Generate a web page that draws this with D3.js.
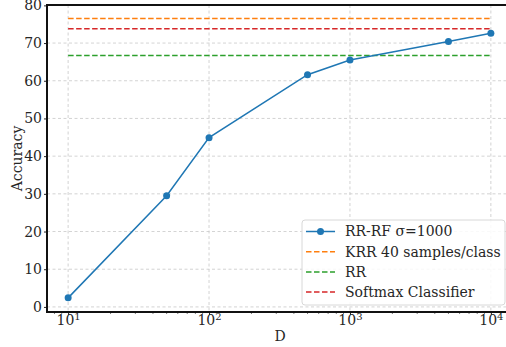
<!DOCTYPE html>
<html>
<head>
<meta charset="utf-8">
<script src="https://cdn.jsdelivr.net/npm/d3@7"></script>
<style>
  body { margin: 0; background: #fff; }
  svg text { font-family: "DejaVu Serif", serif; fill: #262626; }
</style>
</head>
<body>
<div id="chart"></div>
<script>
// data
const dims = [10, 50, 100, 500, 1000, 5000, 10000]
const rrrf = [2.4, 29.5, 44.9, 61.6, 65.5, 70.4, 72.6]
const baselines = [
  { name: "KRR 40 samples/class", value: 76.5, color: "#ff7f0e" },
  { name: "RR", value: 66.7, color: "#2ca02c" },
  { name: "Softmax Classifier", value: 73.8, color: "#d62728" }
]
const yTicks = [0, 10, 20, 30, 40, 50, 60, 70, 80]
const xTicks = [10, 100, 1000, 10000]

const width = 506, height = 347
const margin = { top: 5, right: -6, bottom: 35, left: 47 }

const svg = d3.select("#chart").append("svg")
  .attr("width", width)
  .attr("height", height)

const x = d3.scaleLog()
  .domain([Math.pow(10, 0.85), Math.pow(10, 4.15)])
  .range([margin.left, width - margin.right])

const y = d3.scaleLinear()
  .domain([-1.35, 80.1])
  .range([height - margin.bottom, margin.top])

// grid
svg.append("g").selectAll("line")
  .data(yTicks).enter().append("line")
  .attr("x1", margin.left).attr("x2", width)
  .attr("y1", d => y(d)).attr("y2", d => y(d))
  .attr("stroke", "#c8c8c8").attr("stroke-width", 0.8)
  .attr("stroke-dasharray", "3,2.5")

svg.append("g").selectAll("line")
  .data(xTicks).enter().append("line")
  .attr("x1", d => x(d)).attr("x2", d => x(d))
  .attr("y1", margin.top).attr("y2", height - margin.bottom)
  .attr("stroke", "#c8c8c8").attr("stroke-width", 0.8)
  .attr("stroke-dasharray", "3,2.5")

// baseline dashed lines
svg.append("g").selectAll("line")
  .data(baselines).enter().append("line")
  .attr("x1", x(dims[0])).attr("x2", x(dims[dims.length - 1]))
  .attr("y1", d => y(d.value)).attr("y2", d => y(d.value))
  .attr("stroke", d => d.color).attr("stroke-width", 1.5)
  .attr("stroke-dasharray", "5.5,2.5")

// main series
const line = d3.line()
  .x((d, i) => x(dims[i]))
  .y(d => y(d))

svg.append("path")
  .datum(rrrf)
  .attr("d", line)
  .attr("fill", "none")
  .attr("stroke", "#1f77b4")
  .attr("stroke-width", 1.5)

svg.append("g").selectAll("circle")
  .data(rrrf).enter().append("circle")
  .attr("cx", (d, i) => x(dims[i]))
  .attr("cy", d => y(d))
  .attr("r", 3.5)
  .attr("fill", "#1f77b4")

// axes
const yAxis = d3.axisLeft(y).tickValues(yTicks).tickSize(3).tickPadding(2)
const gy = svg.append("g")
  .attr("transform", `translate(${margin.left},0)`)
  .call(yAxis)
gy.select(".domain").remove()
gy.selectAll("text").style("font-size", "14px").style("font-family", "DejaVu Serif")
gy.selectAll("line").attr("stroke", "#222")

const xAxis = d3.axisBottom(x).tickValues(xTicks).tickSize(3).tickFormat("")
const gx = svg.append("g")
  .attr("transform", `translate(0,${height - margin.bottom})`)
  .call(xAxis)
gx.select(".domain").remove()
gx.selectAll("line").attr("stroke", "#222")

// minor ticks
const minors = []
for (let e = 1; e <= 4; e++) for (let m = 2; m <= 9; m++) minors.push(m * Math.pow(10, e - 1))
svg.append("g").selectAll("line")
  .data(minors.filter(d => d > x.domain()[0] && d < x.domain()[1])).enter().append("line")
  .attr("x1", d => x(d)).attr("x2", d => x(d))
  .attr("y1", height - margin.bottom).attr("y2", height - margin.bottom + 2)
  .attr("stroke", "#222").attr("stroke-width", 0.6)

const xl = gx.selectAll(".tick").append("text")
  .attr("y", 13)
  .attr("text-anchor", "middle")
  .style("font-size", "14px")
xl.append("tspan").text("10")
xl.append("tspan").attr("dy", -5).style("font-size", "10px").text(d => Math.round(Math.log10(d)))

// spines
svg.append("path")
  .attr("d", `M${width},${margin.top}H${margin.left}V${height - margin.bottom}H${width}`)
  .attr("fill", "none").attr("stroke", "#111").attr("stroke-width", 2)

// labels
svg.append("text")
  .attr("transform", `translate(22,${(margin.top + height - margin.bottom) / 2}) rotate(-90)`)
  .attr("text-anchor", "middle")
  .style("font-size", "14px")
  .text("Accuracy")

svg.append("text")
  .attr("x", 280).attr("y", 341)
  .attr("text-anchor", "middle")
  .style("font-size", "14px")
  .text("D")

// legend
const legend = svg.append("g").attr("transform", "translate(302,220)")
legend.append("rect")
  .attr("width", 203).attr("height", 85)
  .attr("rx", 3)
  .attr("fill", "rgba(255,255,255,0.85)")
  .attr("stroke", "#d8d8d8").attr("stroke-width", 1)

const entries = [{ name: "RR-RF \u03c3=1000", color: "#1f77b4", marker: true }]
  .concat(baselines.map(b => ({ name: b.name, color: b.color, marker: false })))
const rows = legend.selectAll("g.row")
  .data(entries).enter().append("g")
  .attr("transform", (d, i) => `translate(0,${11.5 + i * 20.2})`)

rows.append("line")
  .attr("x1", 4).attr("x2", 33)
  .attr("stroke", d => d.color).attr("stroke-width", 1.5)
  .attr("stroke-dasharray", d => d.marker ? null : "5.5,2.5")
rows.filter(d => d.marker).append("circle")
  .attr("cx", 18.5).attr("r", 3.5).attr("fill", d => d.color)
rows.append("text")
  .attr("x", 43).attr("dy", "0.35em")
  .style("font-size", "14px")
  .text(d => d.name)
</script>
</body>
</html>
